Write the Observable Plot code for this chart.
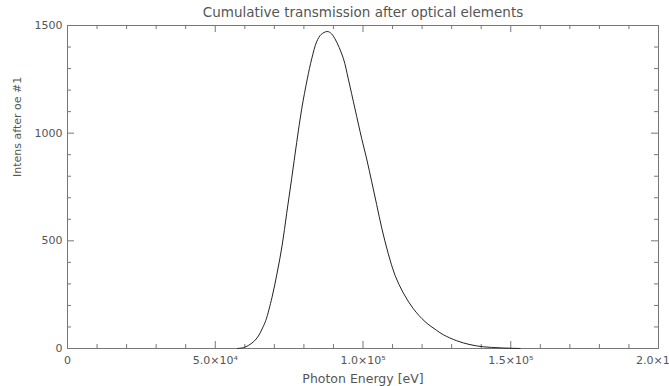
<!DOCTYPE html>
<html>
<head>
<meta charset="utf-8">
<script src="https://cdn.jsdelivr.net/npm/d3@7"></script>
<script src="https://cdn.jsdelivr.net/npm/@observablehq/plot@0.6"></script>
<style>
  html, body { margin: 0; padding: 0; background: white; }
</style>
</head>
<body>
<div id="chart"></div>
<script>
// ---- data ----
const energy = [57500, 59500, 61200, 63000, 64600, 66000, 67100, 69200, 71000, 72650,
  74180, 75870, 77560, 79260, 81150, 82640, 84330, 85800, 87800, 89000, 90520,
  93330, 95020, 97290, 99560, 101250, 102940, 104630, 106330, 108560, 110830,
  113640, 117020, 120980, 124940, 127170, 131710, 136210, 140710, 146360, 153130];
const intensity = [0, 4, 14, 32, 58, 95, 130, 237, 355, 480,
  628, 790, 957, 1113, 1252, 1345, 1425, 1458, 1472, 1466, 1438,
  1348, 1252, 1113, 975, 880, 775, 668, 560, 440, 340,
  258, 185, 125, 84, 64, 36, 18, 8, 3, 0];

const xMajor = [0, 50000, 100000, 150000, 200000];
const xMinor = [10000, 20000, 30000, 40000, 60000, 70000, 80000, 90000,
  110000, 120000, 130000, 140000, 160000, 170000, 180000, 190000];
const yMajor = [0, 500, 1000, 1500];
const yMinor = [100, 200, 300, 400, 600, 700, 800, 900, 1100, 1200, 1300, 1400];

const title = "Cumulative transmission after optical elements";
const xLabel = "Photon Energy [eV]";
const yLabel = "Intens after oe #1";

const W = 669, H = 386;
const mL = 67, mR = 11, mT = 25, mB = 38;
const innerW = W - mL - mR, innerH = H - mT - mB;
const minorLen = 4, majorLen = 7;
const axisColor = "#777", textColor = "#555";

const sup = {"0":"⁰","1":"¹","2":"²","3":"³","4":"⁴","5":"⁵","6":"⁶","7":"⁷","8":"⁸","9":"⁹","-":"⁻"};
function fmtX(d) {
  if (d === 0) return "0";
  const [m, e] = d.toExponential(1).split("e");
  const ex = String(+e).split("").map(c => sup[c]).join("");
  return m + "×10" + ex;
}

const data = energy.map((e, i) => ({e, v: intensity[i]}));

const chart = Plot.plot({
  width: W, height: H,
  marginLeft: mL, marginRight: mR, marginTop: mT, marginBottom: mB,
  style: {fontFamily: "DejaVu Sans", fontSize: "11px", color: textColor, background: "white"},
  x: {domain: [0, 200000]},
  y: {domain: [0, 1500]},
  marks: [
    Plot.frame({stroke: axisColor}),
    // bottom / top ticks
    Plot.tickX(xMinor, {x: d => d, insetTop: innerH - minorLen, stroke: axisColor}),
    Plot.tickX(xMinor, {x: d => d, insetBottom: innerH - minorLen, stroke: axisColor}),
    Plot.tickX(xMajor, {x: d => d, insetTop: innerH - majorLen, stroke: axisColor}),
    Plot.tickX(xMajor, {x: d => d, insetBottom: innerH - majorLen, stroke: axisColor}),
    // left / right ticks
    Plot.tickY(yMinor, {y: d => d, insetRight: innerW - minorLen, stroke: axisColor}),
    Plot.tickY(yMinor, {y: d => d, insetLeft: innerW - minorLen, stroke: axisColor}),
    Plot.tickY(yMajor, {y: d => d, insetRight: innerW - majorLen, stroke: axisColor}),
    Plot.tickY(yMajor, {y: d => d, insetLeft: innerW - majorLen, stroke: axisColor}),
    Plot.axisX(xMajor, {tickSize: 0, tickPadding: 8, tickFormat: fmtX, label: null, fill: textColor, fontSize: 11}),
    Plot.axisY(yMajor, {tickSize: 0, tickPadding: 5, tickFormat: d => String(d), label: null, fill: textColor, fontSize: 11}),
    Plot.line(data, {x: "e", y: "v", stroke: "#222", strokeWidth: 1, curve: "catmull-rom"}),
    Plot.text([title], {frameAnchor: "top", dy: -13, lineAnchor: "middle", fontSize: 13.5, fill: textColor}),
    Plot.text([xLabel], {frameAnchor: "bottom", dy: 30, lineAnchor: "middle", fontSize: 12.5, fill: textColor}),
    Plot.text([yLabel], {frameAnchor: "left", dx: -50, dy: -10, rotate: -90, lineAnchor: "middle", fontSize: 11, fill: textColor})
  ]
});
document.getElementById("chart").append(chart);
</script>
</body>
</html>
